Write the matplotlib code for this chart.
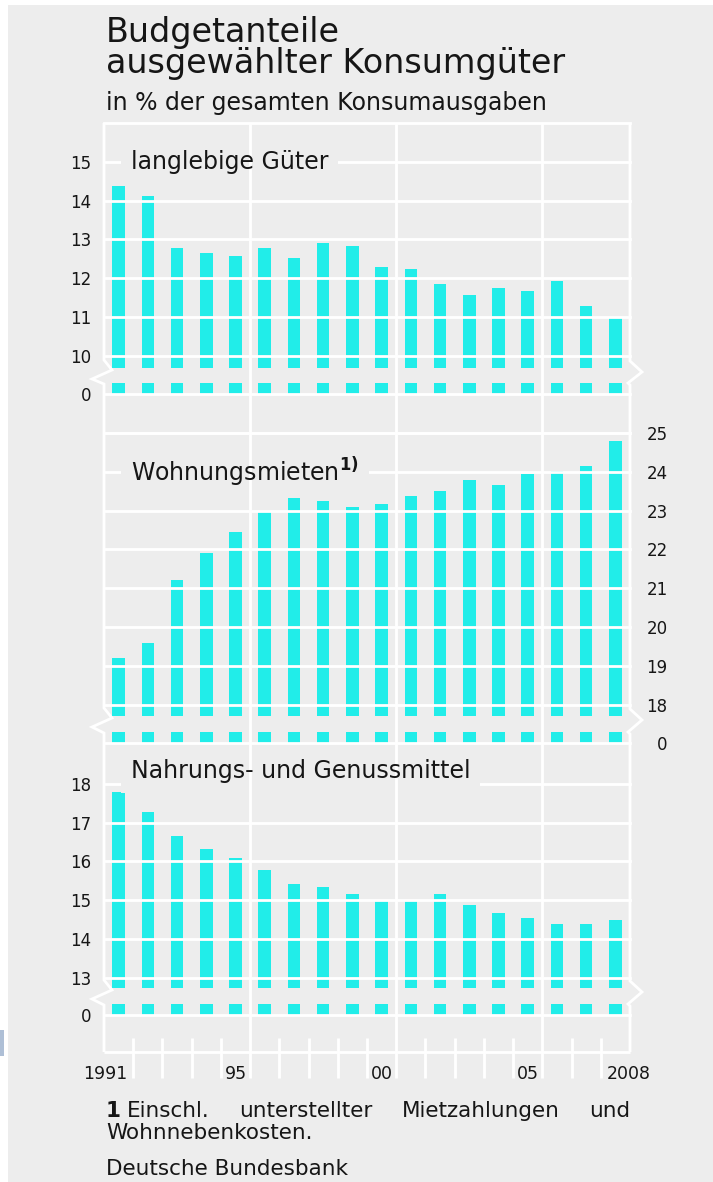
import matplotlib
matplotlib.use("Agg")
import matplotlib.pyplot as plt
from matplotlib.patches import Rectangle

# ---------------- data ----------------
years = list(range(1991, 2009))
langlebige = [14.38, 14.11, 12.77, 12.64, 12.58, 12.78, 12.53, 12.92, 12.84,
              12.29, 12.23, 11.85, 11.57, 11.74, 11.66, 11.93, 11.29, 10.99]
mieten = [19.20, 19.60, 21.20, 21.91, 22.45, 23.00, 23.33, 23.24, 23.09,
          23.17, 23.38, 23.50, 23.80, 23.67, 23.95, 24.03, 24.16, 24.79]
nahrung = [17.78, 17.27, 16.66, 16.31, 16.09, 15.78, 15.43, 15.34, 15.16,
           14.98, 14.98, 15.16, 14.88, 14.67, 14.53, 14.38, 14.39, 14.50]
ticks_langlebige = [10, 11, 12, 13, 14, 15]
ticks_mieten = [18, 19, 20, 21, 22, 23, 24, 25]
ticks_nahrung = [13, 14, 15, 16, 17, 18]
xtick_years = [1991, 1995, 2000, 2005, 2008]
xtick_labels = ["1991", "95", "00", "05", "2008"]
major_bounds = [1995.5, 2000.5, 2005.5]
footnote_words = ["Einschl.", "unterstellter", "Mietzahlungen", "und"]

# ---------------- style / layout ----------------
W, H = 713, 1182
BG = "#ededed"
CYAN = "#21ede9"
TXT = "#161616"
X0, X1 = 104, 630          # pixel extent of the plot frame
U = 38.8                   # pixels per percentage point
XMIN, XMAX = 1990.5, 2008.5
PPY = (X1 - X0) / (XMAX - XMIN)
LW = 2.0
LABEL_FS = 17
plt.rcParams["font.family"] = ["DejaVu Sans"]

fig = plt.figure(figsize=(W / 100, H / 100), dpi=100, facecolor="white")
fig.patches.append(Rectangle((8 / W, 0), 1 - 8 / W, 1 - 5 / H, transform=fig.transFigure,
                             facecolor=BG, edgecolor="none", zorder=0))
fig.patches.append(Rectangle((0, 1 - 1056 / H), 4 / W, 26 / H, transform=fig.transFigure,
                             facecolor="#aebfd6", edgecolor="none", zorder=0))


def add_ax(y_top, y_bot, z=2):
    ax = fig.add_axes([X0 / W, 1 - y_bot / H, (X1 - X0) / W, (y_bot - y_top) / H], zorder=z)
    ax.set_xlim(XMIN, XMAX)
    ax.patch.set_alpha(0)
    for s in ax.spines.values():
        s.set_visible(False)
    ax.set_xticks([])
    ax.tick_params(axis="y", length=0, labelsize=12, colors=TXT)
    return ax


panels = [
    dict(vals=langlebige, ticks=ticks_langlebige, top=16, top_px=123, main_bot=368,
         stub_top=383, zero_px=394, side="left", label="langlebige Güter",
         lab_y=15, top_line=True),
    dict(vals=mieten, ticks=ticks_mieten, top=25, top_px=433, main_bot=716,
         stub_top=732, zero_px=743, side="right",
         label=r"Wohnungsmieten$^{\mathbf{1)}}$", lab_y=24, top_line=True),
    dict(vals=nahrung, ticks=ticks_nahrung, top=19, top_px=745, main_bot=988,
         stub_top=1004, zero_px=1015, side="left", label="Nahrungs- und Genussmittel",
         lab_y=18.32, top_line=False),
]

label_specs = []
for p in panels:
    lo = p["top"] - (p["main_bot"] - p["top_px"]) / U
    ax = add_ax(p["top_px"], p["main_bot"])
    ax.set_ylim(lo, p["top"])
    ax.bar(years, p["vals"], width=0.43, color=CYAN, linewidth=0, zorder=2)
    for t in p["ticks"]:
        ax.axhline(t, color="white", lw=LW, zorder=3, clip_on=False)
    if p["top_line"]:
        ax.axhline(p["top"], color="white", lw=LW, zorder=3, clip_on=False)
    ax.set_yticks(p["ticks"])
    ax.set_yticklabels([str(t) for t in p["ticks"]])
    # mask box behind the panel title (hides the horizontal grid line)
    ax.text(1991.42, p["lab_y"], p["label"], fontsize=LABEL_FS, color=(0, 0, 0, 0),
            va="center", ha="left", zorder=4,
            bbox=dict(boxstyle="square,pad=0.42", facecolor=BG, edgecolor="none"))
    label_specs.append((ax, p))

    stub = add_ax(p["stub_top"], p["zero_px"] + 4)
    stub.set_ylim(-4 / U, (p["zero_px"] - p["stub_top"]) / U)
    stub.bar(years, p["vals"], width=0.43, color=CYAN, linewidth=0, zorder=2)
    stub.axhline(0, color="white", lw=LW, zorder=3, clip_on=False)
    stub.set_yticks([0])
    stub.set_yticklabels(["0"])

    for a in (ax, stub):
        if p["side"] == "right":
            a.yaxis.tick_right()
            a.tick_params(axis="y", pad=27)
            for lab in a.get_yticklabels():
                lab.set_ha("right")
        else:
            a.tick_params(axis="y", pad=9)

# ---------------- overlay: frame, vertical grid, breaks, x labels ----------------
ov = fig.add_axes([0, 0, 1, 1], zorder=10)
ov.set_xlim(XMIN - X0 / PPY, XMIN + (W - X0) / PPY)
ov.set_ylim(H, 0)
ov.axis("off")
ov.patch.set_alpha(0)


def fx(px):
    return XMIN + (px - X0) / PPY


def wline(xs, ys):
    ov.plot(xs, ys, color="white", lw=LW, solid_capstyle="butt", solid_joinstyle="miter")


# left and right borders with break zig-zags
lx, ly = [fx(X0)], [123]
rx, ry = [fx(X1)], [123]
for p in panels:
    mb, st = p["main_bot"], p["stub_top"]
    lx += [fx(X0), fx(X0 + 8), fx(X0 - 12), fx(X0)]
    ly += [mb - 8, mb + 2, mb + 11, st + 1]
    rx += [fx(X1), fx(X1 + 12), fx(X1 - 2), fx(X1)]
    ry += [mb - 7, mb + 4, st, st + 2]
lx.append(fx(X0)); ly.append(1052)
rx.append(fx(X1)); ry.append(1052)
wline(lx, ly)
wline(rx, ry)
wline([XMIN, XMAX], [1052, 1052])

for b in major_bounds:
    wline([b, b], [123, 1078])
for y in years[:-1]:
    b = y + 0.5
    if b not in major_bounds:
        wline([b, b], [1038, 1078])

# visible panel titles, drawn above the vertical lines
for ax, p in label_specs:
    ov.text(1991.42, p["lab_y"], p["label"], fontsize=LABEL_FS, color=TXT,
            va="center", ha="left", transform=ax.transData, zorder=20)

for yr, lab in zip(xtick_years, xtick_labels):
    ha, xx = "center", yr
    if yr == xtick_years[0]:
        ha, xx = "right", yr + 0.3
    elif yr == xtick_years[-1]:
        ha, xx = "left", yr - 0.3
    ov.text(xx, 1079, lab, ha=ha, va="baseline", fontsize=12.5, color=TXT)


# ---------------- titles & notes ----------------
def ftext(px, py, s, **kw):
    kw.setdefault("ha", "left")
    return fig.text(px / W, 1 - py / H, s, va="baseline", color=TXT, **kw)


ftext(106, 42, "Budgetanteile", fontsize=24)
ftext(106, 73, "ausgewählter Konsumgüter", fontsize=24)
ftext(106, 110, "in % der gesamten Konsumausgaben", fontsize=17)
FN = 15.5
ftext(106, 1117, "1", fontsize=FN, fontweight="bold")

# justified first footnote line between x=127 and x=630
renderer = fig.canvas.get_renderer()
word_texts = [ftext(0, 1117, w, fontsize=FN) for w in footnote_words]
widths = [t.get_window_extent(renderer).width for t in word_texts]
gap = (630 - 127 - sum(widths)) / (len(widths) - 1)
xpos = 127
for t, wdt in zip(word_texts, widths):
    t.set_x(xpos / W)
    xpos += wdt + gap

ftext(106, 1139, "Wohnnebenkosten.", fontsize=FN)
ftext(106, 1175, "Deutsche Bundesbank", fontsize=FN)

fig.savefig("out.png", dpi=100, facecolor="white")
